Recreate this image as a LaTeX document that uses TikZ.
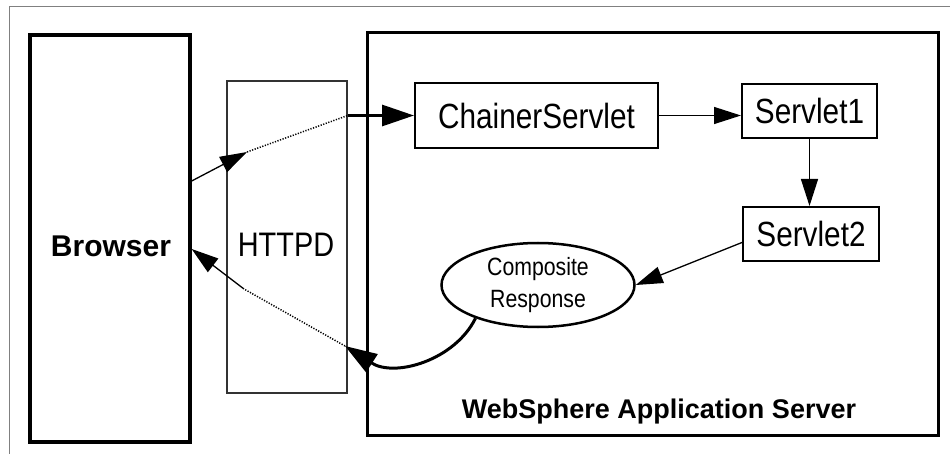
\documentclass[tikz,border=0pt]{standalone}
\usepackage{fontspec}
\setmainfont{Liberation Sans}
\newfontfamily\narrowsans{Liberation Sans}[FakeStretch=0.85]
\usepackage{tikz}
\usetikzlibrary{arrows.meta, positioning, calc, shapes}

\begin{document}
\begin{tikzpicture}[x=1pt, y=-1pt,
    box/.style={draw, rectangle, inner sep=0pt},
    servletbox/.style={box, line width=2pt, font=\narrowsans\fontsize{35}{38}\selectfont},
    thinarrow/.style={-{Triangle[length=27pt, width=17pt]}, line width=1.3pt},
    bigarrow/.style={-{Triangle[length=32pt, width=21pt]}, line width=3pt},
    dots/.style={line width=1.5pt, dash pattern=on 1.2pt off 1.5pt}]
    \useasboundingbox (0,0) rectangle (950,454);
    \draw[black!50, line width=1pt] (9.5,454) -- (9.5,6.5) -- (950,6.5);

    \node[box, line width=3.3pt, minimum width=160pt, minimum height=407pt] (browser) at (110,238.5) {};
    \node[box, draw=black!80, line width=1.3pt, minimum width=120pt, minimum height=312pt] (httpd) at (287,237) {};
    \node[box, line width=3pt, minimum width=571pt, minimum height=402pt] (was) at (652.5,234) {};
    \node[font=\bfseries\fontsize{30}{36}\selectfont] (browserlbl) at (111,246) {Browser};
    \node[font=\narrowsans\fontsize{34}{38}\selectfont] (httpdlbl) at (286,245) {HTTPD};
    \node[font=\bfseries\fontsize{27}{32}\selectfont, anchor=base] (waslbl) at (659,418) {WebSphere Application Server};

    \node[servletbox, minimum width=243pt, minimum height=65pt] (chainer) at (536.5,115.5) {ChainerServlet};
    \node[servletbox, minimum width=135pt, minimum height=54pt] (servlet1) at (809.5,111) {Servlet1};
    \node[servletbox, minimum width=136pt, minimum height=54pt] (servlet2) at (811,234) {Servlet2};
    \node[draw, ellipse, line width=2.5pt, inner sep=0pt, minimum width=193pt, minimum height=84pt,
        align=center, font=\narrowsans\fontsize{25}{32}\selectfont] (resp) at (538,285) {Composite\\Response};

    % request path
    \coordinate (reqin) at (247,152);
    \draw[thinarrow] (browser.east |- 0,181) -- (reqin);
    \draw[dots] (reqin) -- (httpd.east |- chainer.west);
    \draw[bigarrow] (httpd.east |- chainer.west) -- (chainer.west);
    \draw[thinarrow] (chainer.east) -- (chainer.east -| servlet1.west);
    \draw[thinarrow] (servlet1.south) -- (servlet1.south |- servlet2.north);
    \draw[thinarrow] (servlet2.187) -- (resp.east);

    % response path
    \coordinate (respin) at (345,346);
    \coordinate (respmid) at (244,289);
    \draw[bigarrow] (resp.208) .. controls (455,360) and (395,378) .. (respin);
    \draw[dots] (respin) -- (respmid);
    \draw[thinarrow] (respmid) -- (browser.east |- 0,249);
\end{tikzpicture}
\end{document}
